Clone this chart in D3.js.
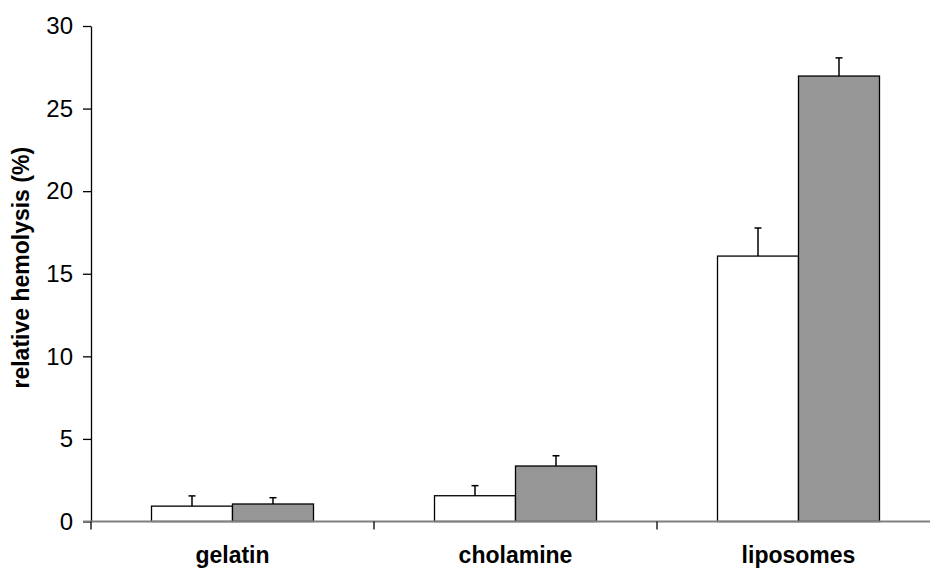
<!DOCTYPE html>
<html>
<head>
<meta charset="utf-8">
<script src="https://cdn.jsdelivr.net/npm/d3@7"></script>
<style>
  body { margin: 0; background: #fff; }
  svg { display: block; font-family: "Liberation Sans", Arial, sans-serif; }
</style>
</head>
<body>
<svg id="chart" width="930" height="569"></svg>
<script>
// data
const categories = ["gelatin", "cholamine", "liposomes"];
const series = ["white", "gray"];
const whiteValues = [0.93, 1.56, 16.07];
const whiteErrors = [0.62, 0.61, 1.70];
const grayValues = [1.06, 3.36, 26.97];
const grayErrors = [0.38, 0.62, 1.10];
const yTicks = [0, 5, 10, 15, 20, 25, 30];
const yTitle = "relative hemolysis (%)";

const fills = { white: "#ffffff", gray: "#969696" };

const svg = d3.select("#chart");
const width = 930, height = 569;
const margin = { top: 26, left: 91, bottom: 47.5 };

const x = d3.scaleBand()
    .domain(categories)
    .range([margin.left, 940])
    .paddingInner(0)
    .paddingOuter(0);

const xSeries = d3.scaleBand()
    .domain(series)
    .range([0, x.bandwidth()])
    .paddingInner(0)
    .paddingOuter(0.747);

const y = d3.scaleLinear()
    .domain([0, 30])
    .range([height - margin.bottom, margin.top]);

// y axis
const yAxis = svg.append("g")
    .attr("transform", `translate(${margin.left},0)`)
    .call(d3.axisLeft(y).tickValues(yTicks).tickSize(8).tickSizeOuter(0).tickPadding(10));
yAxis.attr("font-family", null).attr("font-size", null);
yAxis.select(".domain").attr("stroke", "#000").attr("stroke-width", 1.3);
yAxis.selectAll(".tick line").attr("stroke", "#000").attr("stroke-width", 1.3);
yAxis.selectAll(".tick text")
    .attr("font-size", 24)
    .attr("fill", "#000");

// y title
svg.append("text")
    .attr("transform", `translate(29,${(y(30) + y(0)) / 2 - 6}) rotate(-90)`)
    .attr("text-anchor", "middle")
    .attr("font-size", 23)
    .attr("font-weight", "bold")
    .text(yTitle);

// bars
const rows = categories.map((c, i) => [
    { cat: c, s: "white", v: whiteValues[i], e: whiteErrors[i] },
    { cat: c, s: "gray", v: grayValues[i], e: grayErrors[i] }
]).flat();

const bars = svg.append("g");
bars.selectAll("rect")
    .data(rows)
    .enter().append("rect")
    .attr("x", d => x(d.cat) + xSeries(d.s))
    .attr("y", d => y(d.v))
    .attr("width", xSeries.bandwidth())
    .attr("height", d => y(0) - y(d.v))
    .attr("fill", d => fills[d.s])
    .attr("stroke", "#000")
    .attr("stroke-width", 1.3);

// error bars (upper only)
const err = svg.append("g").attr("stroke", "#000").attr("stroke-width", 1.5);
err.selectAll(".stem")
    .data(rows)
    .enter().append("line")
    .attr("x1", d => x(d.cat) + xSeries(d.s) + xSeries.bandwidth() / 2)
    .attr("x2", d => x(d.cat) + xSeries(d.s) + xSeries.bandwidth() / 2)
    .attr("y1", d => y(d.v))
    .attr("y2", d => y(d.v + d.e));
err.selectAll(".cap")
    .data(rows)
    .enter().append("line")
    .attr("x1", d => x(d.cat) + xSeries(d.s) + xSeries.bandwidth() / 2 - 3.5)
    .attr("x2", d => x(d.cat) + xSeries(d.s) + xSeries.bandwidth() / 2 + 3.5)
    .attr("y1", d => y(d.v + d.e))
    .attr("y2", d => y(d.v + d.e));

// x axis baseline (gray) and category boundary ticks
svg.append("line")
    .attr("x1", margin.left - 8)
    .attr("x2", width)
    .attr("y1", y(0))
    .attr("y2", y(0))
    .attr("stroke", "#7f7f7f")
    .attr("stroke-width", 2);

const bounds = categories.map(c => x(c)).concat([x.range()[1]]);
svg.append("g").selectAll("line")
    .data(bounds)
    .enter().append("line")
    .attr("x1", d => d)
    .attr("x2", d => d)
    .attr("y1", y(0))
    .attr("y2", y(0) + 8)
    .attr("stroke", "#000")
    .attr("stroke-width", 1.3);

// category labels
svg.append("g").selectAll("text")
    .data(categories)
    .enter().append("text")
    .attr("x", d => x(d) + x.bandwidth() / 2)
    .attr("y", 563)
    .attr("text-anchor", "middle")
    .attr("font-size", 23)
    .attr("font-weight", "bold")
    .text(d => d);
</script>
</body>
</html>
